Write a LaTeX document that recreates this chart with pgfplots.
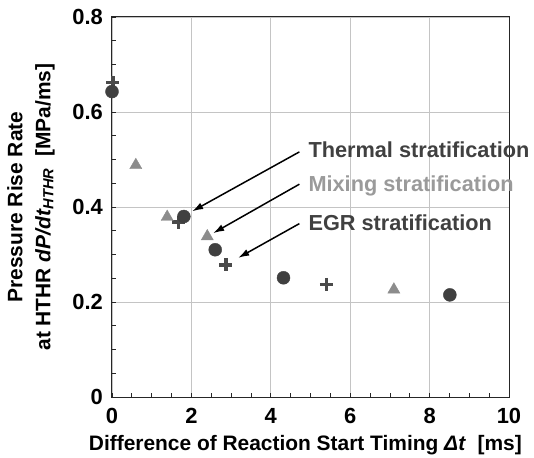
\documentclass[border=0pt]{standalone}
\usepackage{fontspec}
\setmainfont{Liberation Sans}
\usepackage{pgfplots}
\pgfplotsset{compat=1.18}
\usetikzlibrary{arrows.meta}
\definecolor{dk}{HTML}{404040}
\definecolor{pl}{HTML}{4A4A4A}
\definecolor{mid}{HTML}{8C8C8C}
\definecolor{txtmix}{HTML}{9A9A9A}
\definecolor{gridc}{HTML}{C4C4C4}
\begin{document}
\fontsize{21}{28}\selectfont\bfseries
\begin{tikzpicture}
\path[use as bounding box] (-112bp,-61bp) rectangle (422bp,397bp);
\begin{axis}[
  at={(0,0)}, anchor=south west,
  scale only axis, width=397bp, height=380bp,
  xmin=0, xmax=10, ymin=0, ymax=0.8,
  xtick={0,2,4,6,8,10}, ytick={0,0.2,0.4,0.6,0.8},
  minor x tick num=3, minor y tick num=3,
  tick pos=left, tick align=inside,
  major tick length=4bp, minor tick length=4bp,
  tick style={black!85, line width=0.8bp},
  axis line style={black!85, line width=1bp},
  grid=major, major grid style={gridc, line width=0.9bp},
  clip=false,
  /pgf/number format/assume math mode=true,
  tick label style={font=\fontsize{22}{26}\selectfont\bfseries},
  xticklabel style={anchor=north, inner sep=0pt, yshift=-11bp},
  yticklabel style={anchor=east, inner sep=0pt, xshift=-9bp},
  xlabel={Difference of Reaction Start Timing \textit{Δt}\ \ [ms]},
  every axis x label/.style={at={(axis description cs:0.487,0)}, anchor=base, yshift=-53bp, font=\fontsize{21}{28}\selectfont\bfseries},
  ylabel={Pressure Rise Rate\\at HTHR \textit{dP/dt}\textsubscript{\textit{HTHR}}\ \ [MPa/ms]},
  every axis y label/.style={at={(axis description cs:-0.204,0.5)}, rotate=90, anchor=center, align=center, font=\fontsize{21}{28}\selectfont\bfseries},
]
% EGR stratification (plus)
\addplot[only marks, mark=+, mark size=6.5bp, color=pl, mark options={line width=3.5bp}]
  coordinates {(0.02,0.662) (1.68,0.368) (2.87,0.278) (5.40,0.237)};
% Mixing stratification (triangle)
\addplot[only marks, mark=triangle*, mark size=7bp, color=mid]
  coordinates {(0.60,0.488) (1.39,0.379) (2.40,0.338) (7.10,0.226)};
% Thermal stratification (circle)
\addplot[only marks, mark=*, mark size=6.5bp, color=dk]
  coordinates {(0,0.643) (1.81,0.380) (2.60,0.310) (4.32,0.251) (8.51,0.215)};

\draw[-{Latex[length=11bp,width=7bp]}, line width=1.5bp] (axis cs:4.72,0.516) -- (axis cs:2.02,0.391);
\draw[-{Latex[length=11bp,width=7bp]}, line width=1.5bp] (axis cs:4.72,0.448) -- (axis cs:2.55,0.345);
\draw[-{Latex[length=11bp,width=7bp]}, line width=1.5bp] (axis cs:4.72,0.365) -- (axis cs:3.18,0.293);

\node[anchor=base west, inner sep=0pt, text=dk, font=\fontsize{21.8}{25}\selectfont\bfseries] at (axis cs:4.945,0.504) {Thermal stratification};
\node[anchor=base west, inner sep=0pt, text=txtmix, font=\fontsize{21.8}{25}\selectfont\bfseries] at (axis cs:4.945,0.433) {Mixing stratification};
\node[anchor=base west, inner sep=0pt, text=dk, font=\fontsize{21.8}{25}\selectfont\bfseries] at (axis cs:4.945,0.351) {EGR stratification};
\end{axis}
\end{tikzpicture}
\end{document}
